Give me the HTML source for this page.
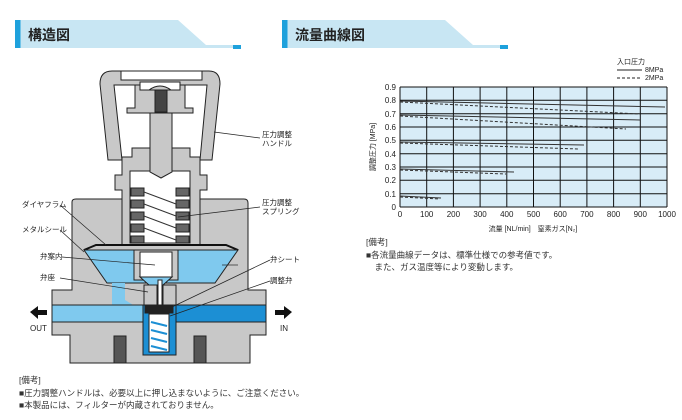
<!DOCTYPE html>
<html><head><meta charset="utf-8"><style>
html,body{margin:0;padding:0;background:#fff;}
body{width:682px;height:420px;position:relative;overflow:hidden;font-family:"Liberation Sans","Noto Sans CJK JP",sans-serif;}
.t{position:absolute;font-size:7.5px;color:#222;white-space:nowrap;line-height:9px;}
.n{position:absolute;font-size:8.5px;color:#333;white-space:nowrap;line-height:12.5px;}
</style></head><body>
<svg width="682" height="420" style="position:absolute;left:0;top:0" font-family="Liberation Sans, Noto Sans CJK JP, sans-serif">
<!-- headers -->
<polygon points="15,20 178,20 206,45 240,45 240,48 15,48" fill="#c8e6f3"/>
<rect x="15" y="20" width="5.5" height="28" fill="#1ea1dc"/>
<rect x="233" y="45" width="8" height="4" fill="#1ea1dc"/>
<text x="28" y="40" font-size="14" font-weight="bold" fill="#222">構造図</text>
<polygon points="282,20 445,20 473,45 507,45 507,48 282,48" fill="#c8e6f3"/>
<rect x="282" y="20" width="5.5" height="28" fill="#1ea1dc"/>
<rect x="500" y="45" width="8" height="4" fill="#1ea1dc"/>
<text x="295" y="40" font-size="14" font-weight="bold" fill="#222">流量曲線図</text>

<!-- ===== structure diagram ===== -->
<g stroke="#222" stroke-width="1">
<!-- lower body -->
<path d="M52,290 L72,290 L72,202 Q72,199 76,199 L244,199 Q248,199 248,203 L248,290 L266,290 L266,335 L250,335 L250,363 L70,363 L70,335 L52,335 Z" fill="#c8c8c8"/>
<!-- handle -->
<path d="M100,84 Q100,71 112,71 L209,71 Q220,71 220,84 L212,160 L108,160 Z" fill="#c8c8c8"/>
<rect x="121" y="71" width="81" height="9" fill="#fff"/>
<path d="M114,85 L207,85 L200,160 L122,160 Z" fill="#fff"/>
<path d="M135,85 L185,85 L185,108 L193,108 L193,113 L172,113 L172,160 L150,160 L150,113 L127,113 L127,108 L135,108 Z" fill="#c8c8c8"/>
<rect x="140" y="82" width="40" height="8" fill="#fff"/>
<path d="M149,90 Q160,82 171,90 Z" fill="#c8c8c8"/>
<rect x="155" y="90" width="12" height="22" fill="#444"/>
<!-- bonnet -->
<path d="M132,148 L190,148 L190,157 L200,157 L200,175 L207,175 L207,190 L200,190 L200,245 L122,245 L122,190 L115,190 L115,175 L122,175 L122,157 L132,157 Z" fill="#c8c8c8"/>
<rect x="130" y="171" width="60" height="72" fill="#fff"/>
<path d="M150,113 L172,113 L172,172 L161,178 L150,172 Z" fill="#c8c8c8"/>
<!-- spring -->
<g fill="#666">
<rect x="131" y="188" width="13" height="8"/><rect x="176" y="188" width="13" height="8"/>
<rect x="131" y="200" width="13" height="8"/><rect x="176" y="200" width="13" height="8"/>
<rect x="131" y="212" width="13" height="8"/><rect x="176" y="212" width="13" height="8"/>
<rect x="131" y="224" width="13" height="8"/><rect x="176" y="224" width="13" height="8"/>
<rect x="131" y="236" width="13" height="7"/><rect x="176" y="236" width="13" height="7"/>
</g>
<g stroke="#333" stroke-width="1"><line x1="144" y1="192" x2="176" y2="204"/><line x1="144" y1="204" x2="176" y2="216"/><line x1="144" y1="216" x2="176" y2="228"/><line x1="144" y1="228" x2="176" y2="240"/></g>
<!-- diaphragm line -->
<path d="M84,250 L96,245 L122,245 L200,245 L226,245 L238,250" fill="none" stroke="#111" stroke-width="2"/>
<!-- blue chamber -->
<path d="M84,250 L238,250 L215,283 L107,283 Z" fill="#7fc9ee"/>
<path d="M112,283 L125,283 L125,300 L135,306 L112,306 Z" fill="#7fc9ee" stroke="none"/>
<!-- horizontal channel -->
<rect x="52" y="305" width="124" height="17" fill="#7fc9ee"/>
<rect x="176" y="305" width="90" height="17" fill="#1c8fd4"/>
<!-- valve guide -->
<rect x="134" y="250" width="44" height="30" fill="#c8c8c8"/>
<rect x="140" y="252" width="32" height="25" fill="#fff"/>
<path d="M140,277 L172,277 L163,285 L149,285 Z" fill="#7fc9ee"/>
<rect x="158" y="280" width="4" height="28" fill="#fff"/>
<rect x="144" y="285" width="13" height="20" fill="#c8c8c8"/>
<rect x="163" y="285" width="13" height="20" fill="#c8c8c8"/>
<!-- valve pocket -->
<rect x="143" y="305" width="33" height="50" fill="#1c8fd4"/>
<rect x="145" y="306" width="28" height="7" fill="#222"/>
<rect x="149" y="314" width="20" height="38" fill="#fff"/>
<g stroke="#1c8fd4" stroke-width="2"><line x1="151" y1="322" x2="167" y2="326"/><line x1="151" y1="330" x2="167" y2="334"/><line x1="151" y1="338" x2="167" y2="342"/><line x1="151" y1="346" x2="167" y2="350"/></g>
<!-- screws -->
<rect x="114" y="336" width="12" height="27" fill="#555"/>
<rect x="194" y="336" width="12" height="27" fill="#555"/>
</g>
<!-- arrows -->
<polygon points="30,312 38,306 38,310 47,310 47,315 38,315 38,319" fill="#111"/>
<polygon points="292,312 284,306 284,310 275,310 275,315 284,315 284,319" fill="#111"/>
<text x="30" y="331" font-size="8" fill="#222">OUT</text>
<text x="280" y="331" font-size="8" fill="#222">IN</text>
<!-- leaders -->
<g stroke="#222" stroke-width="0.7" fill="none">
<line x1="260" y1="138" x2="214" y2="132"/>
<line x1="260" y1="207" x2="178" y2="217"/>
<line x1="60" y1="205" x2="106" y2="245"/>
<line x1="60" y1="230" x2="84" y2="252"/>
<line x1="62" y1="257" x2="155" y2="265"/>
<line x1="60" y1="278" x2="148" y2="292"/>
<line x1="270" y1="260" x2="172" y2="307"/>
<line x1="270" y1="281" x2="170" y2="316"/>
<line x1="222" y1="265" x2="238" y2="265"/>
</g>
<g font-size="7.5" fill="#222">
<text x="262" y="137">圧力調整</text><text x="262" y="146">ハンドル</text>
<text x="262" y="205">圧力調整</text><text x="262" y="214">スプリング</text>
<text x="22" y="207">ダイヤフラム</text>
<text x="22" y="232">メタルシール</text>
<text x="40" y="259">弁案内</text>
<text x="40" y="280">弁座</text>
<text x="270" y="262">弁シート</text>
<text x="270" y="283">調整弁</text>
</g>

<!-- ===== chart ===== -->
<rect x="400" y="87" width="267" height="120" fill="#d8ecf7"/>
<g stroke="#111" stroke-width="1">
<line x1="400" y1="87" x2="667" y2="87"/><line x1="400" y1="100.3" x2="667" y2="100.3"/><line x1="400" y1="113.7" x2="667" y2="113.7"/><line x1="400" y1="127" x2="667" y2="127"/><line x1="400" y1="140.3" x2="667" y2="140.3"/><line x1="400" y1="153.7" x2="667" y2="153.7"/><line x1="400" y1="167" x2="667" y2="167"/><line x1="400" y1="180.3" x2="667" y2="180.3"/><line x1="400" y1="193.7" x2="667" y2="193.7"/><line x1="400" y1="207" x2="667" y2="207"/>
<line x1="400" y1="87" x2="400" y2="207"/><line x1="426.7" y1="87" x2="426.7" y2="207"/><line x1="453.4" y1="87" x2="453.4" y2="207"/><line x1="480.1" y1="87" x2="480.1" y2="207"/><line x1="506.8" y1="87" x2="506.8" y2="207"/><line x1="533.5" y1="87" x2="533.5" y2="207"/><line x1="560.2" y1="87" x2="560.2" y2="207"/><line x1="586.9" y1="87" x2="586.9" y2="207"/><line x1="613.6" y1="87" x2="613.6" y2="207"/><line x1="640.3" y1="87" x2="640.3" y2="207"/><line x1="667" y1="87" x2="667" y2="207"/>
</g>
<g stroke="#333" stroke-width="1" fill="none">
<line x1="400" y1="101" x2="665" y2="107"/>
<line x1="400" y1="115" x2="640" y2="120"/>
<line x1="400" y1="142" x2="584" y2="145"/>
<line x1="400" y1="169" x2="514" y2="172"/>
<line x1="400" y1="196" x2="441" y2="198"/>
</g>
<g stroke="#333" stroke-width="1" fill="none" stroke-dasharray="3,2">
<line x1="400" y1="102" x2="640" y2="114"/>
<line x1="400" y1="116" x2="626" y2="129"/>
<line x1="400" y1="143" x2="579" y2="149"/>
<line x1="400" y1="170" x2="506" y2="174"/>
<line x1="400" y1="197" x2="440" y2="199"/>
</g>
<g font-size="8" fill="#222" text-anchor="end">
<text x="396" y="90">0.9</text><text x="396" y="103">0.8</text><text x="396" y="117">0.7</text><text x="396" y="130">0.6</text><text x="396" y="143">0.5</text><text x="396" y="157">0.4</text><text x="396" y="170">0.3</text><text x="396" y="183">0.2</text><text x="396" y="197">0.1</text><text x="396" y="210">0</text>
</g>
<g font-size="8" fill="#222" text-anchor="middle">
<text x="400" y="217">0</text><text x="426.7" y="217">100</text><text x="453.4" y="217">200</text><text x="480.1" y="217">300</text><text x="506.8" y="217">400</text><text x="533.5" y="217">500</text><text x="560.2" y="217">600</text><text x="586.9" y="217">700</text><text x="613.6" y="217">800</text><text x="640.3" y="217">900</text><text x="667" y="217">1000</text>
</g>
<text x="533" y="231" font-size="7" fill="#222" text-anchor="middle">流量 [NL/min]　窒素ガス[N₂]</text>
<text x="375" y="147" font-size="7" fill="#222" text-anchor="middle" transform="rotate(-90 375 147)">調整圧力 [MPa]</text>
<text x="617" y="64" font-size="7" fill="#222">入口圧力</text>
<line x1="617" y1="70" x2="642" y2="70" stroke="#222" stroke-width="1"/>
<line x1="617" y1="78" x2="642" y2="78" stroke="#222" stroke-width="1" stroke-dasharray="3,2"/>
<text x="645" y="72" font-size="7" fill="#222">8MPa</text>
<text x="645" y="80" font-size="7" fill="#222">2MPa</text>
</svg>
<div class="n" style="left:19px;top:374px;">[備考]<br>■圧力調整ハンドルは、必要以上に押し込まないように、ご注意ください。<br>■本製品には、フィルターが内蔵されておりません。</div>
<div class="n" style="left:366px;top:236px;">[備考]<br>■各流量曲線データは、標準仕様での参考値です。<br>　また、ガス温度等により変動します。</div>
</body></html>
